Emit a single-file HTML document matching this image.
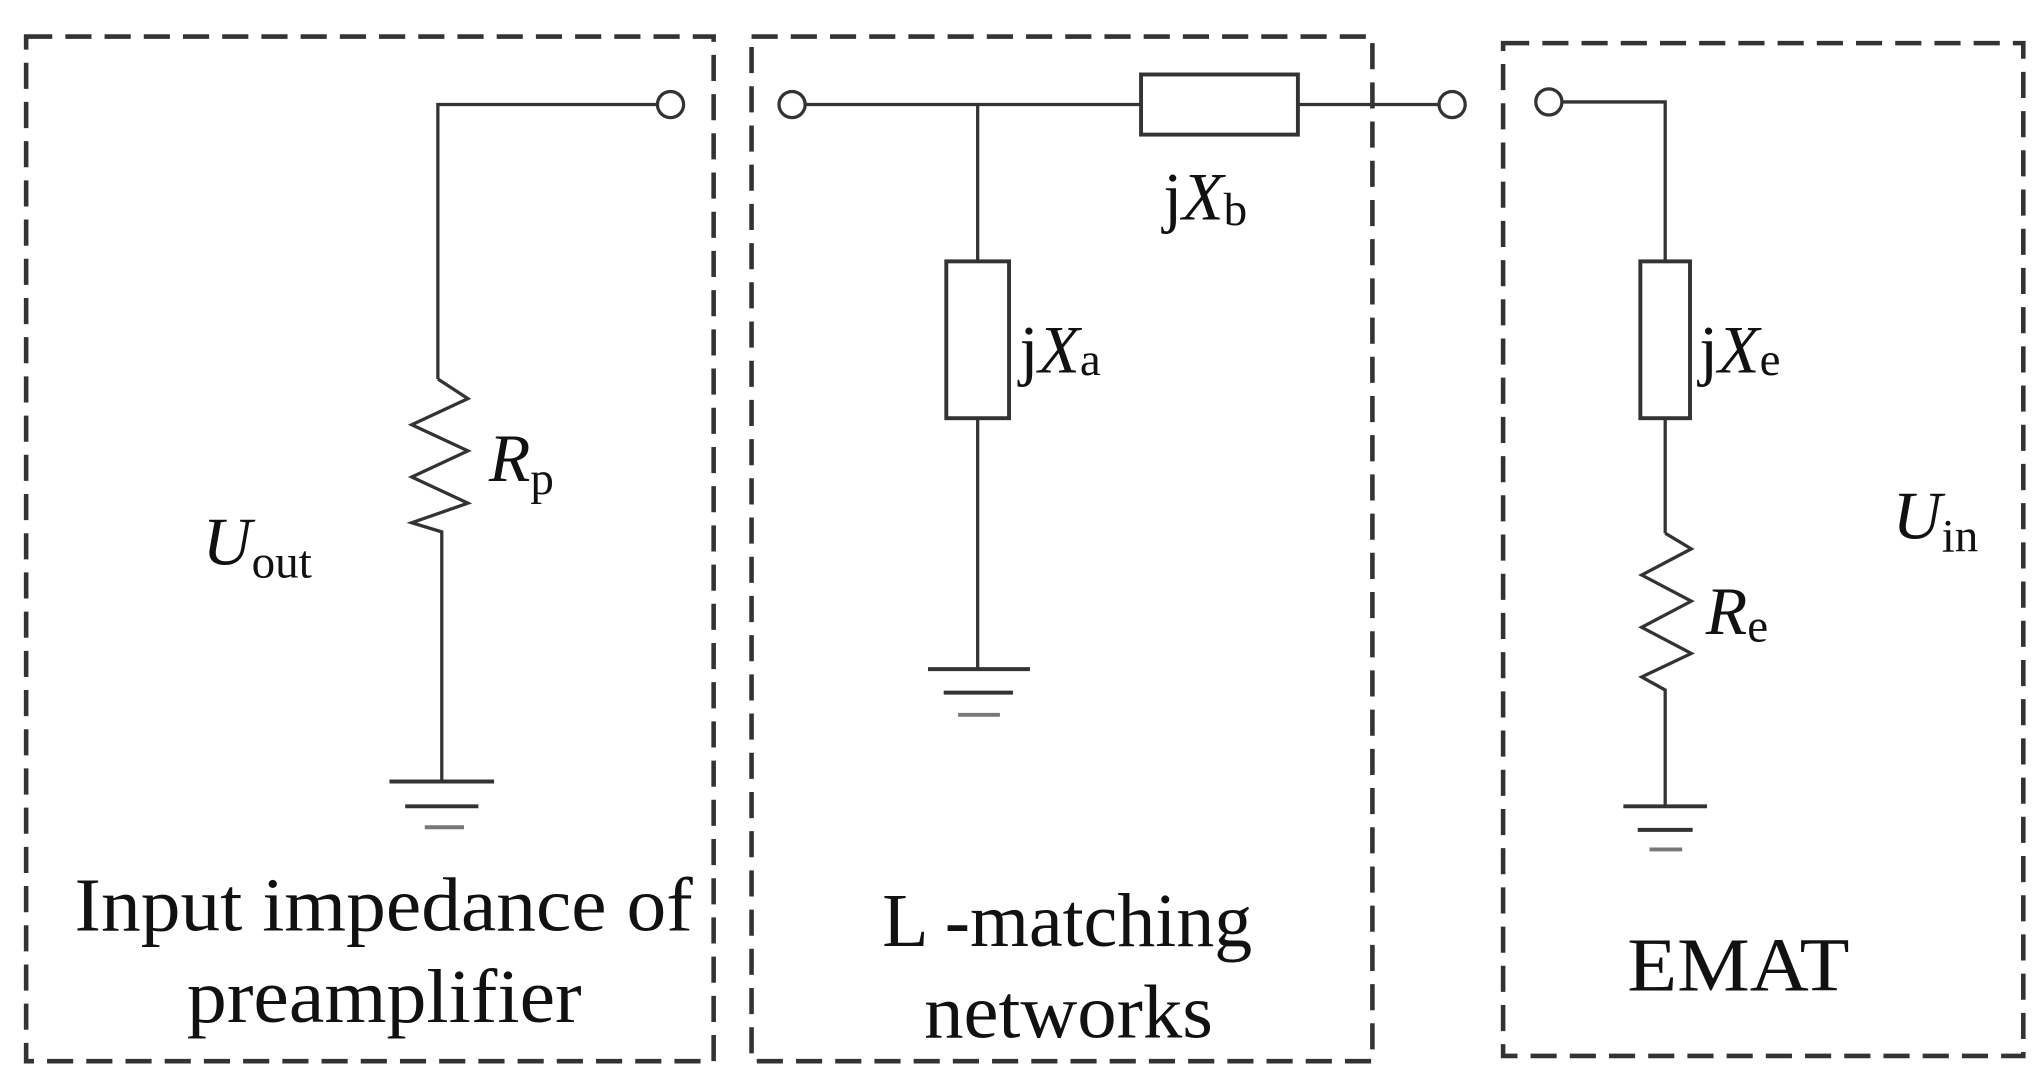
<!DOCTYPE html>
<html><head><meta charset="utf-8"><style>html,body{margin:0;padding:0;background:#fff}svg{display:block}</style></head>
<body>
<svg width="2039" height="1086" viewBox="0 0 1560 831" preserveAspectRatio="none" xmlns="http://www.w3.org/2000/svg" font-family="Liberation Serif, serif">
<g fill="none" stroke="#333" stroke-width="3.5" stroke-dasharray="20,10">
<rect x="20" y="28" width="526" height="784"/>
<rect x="575" y="28" width="475" height="784"/>
<rect x="1150" y="33" width="398" height="775"/>
</g>
<g fill="none" stroke="#333" stroke-width="2.5">
<circle cx="513" cy="80" r="10"/>
<polyline points="503,80 335,80 335,290"/>
<polyline points="335,290 358,305 315,325 358,345 315,365 358,385 315,400 338,407 338,598"/>
<circle cx="606" cy="80" r="10"/>
<line x1="616" y1="80" x2="873" y2="80"/>
<rect x="873" y="57" width="120" height="46" stroke-width="3"/>
<line x1="993" y1="80" x2="1100" y2="80"/>
<circle cx="1111" cy="80" r="10"/>
<line x1="748" y1="80" x2="748" y2="200"/>
<rect x="724" y="200" width="48" height="120" stroke-width="3"/>
<line x1="748" y1="320" x2="748" y2="512"/>
<circle cx="1185" cy="78" r="10"/>
<polyline points="1195,78 1274,78 1274,200"/>
<rect x="1255" y="200" width="38" height="120" stroke-width="3"/>
<line x1="1274" y1="320" x2="1274" y2="408"/>
<polyline points="1274,408 1294,420 1256,440 1294,460 1256,480 1294,500 1256,518 1274,528 1274,617"/>
</g>
<g stroke="#333" stroke-width="3">
<line x1="298" y1="598" x2="378" y2="598"/><line x1="310" y1="617" x2="366" y2="617"/><line x1="325" y1="633" x2="355" y2="633" stroke="#777"/>
<line x1="710" y1="512" x2="788" y2="512"/><line x1="722" y1="530" x2="775" y2="530"/><line x1="733" y1="547" x2="765" y2="547" stroke="#777"/>
<line x1="1242" y1="617" x2="1306" y2="617"/><line x1="1253" y1="635" x2="1295" y2="635"/><line x1="1262" y1="650" x2="1287" y2="650" stroke="#777"/>
</g>
<g fill="#111" font-size="52">
<text x="890" y="168">j<tspan font-style="italic">X</tspan><tspan font-size="36" dy="4">b</tspan></text>
<text x="780" y="285">j<tspan font-style="italic">X</tspan><tspan font-size="36" dy="2">a</tspan></text>
<text x="1300" y="285">j<tspan font-style="italic">X</tspan><tspan font-size="36" dy="2">e</tspan></text>
<text x="374" y="368" font-style="italic">R<tspan font-size="36" font-style="normal" dy="10">p</tspan></text>
<text x="1305" y="485" font-style="italic">R<tspan font-size="36" font-style="normal" dy="6">e</tspan></text>
<text x="155" y="432" font-style="italic">U<tspan font-size="36" font-style="normal" dy="10">out</tspan></text>
<text x="1448" y="412" font-style="italic">U<tspan font-size="36" font-style="normal" dy="10">in</tspan></text>
</g>
<g fill="#111" font-size="58">
<text x="57" y="712" textLength="473" lengthAdjust="spacingAndGlyphs">Input impedance of</text>
<text x="143" y="782" textLength="302" lengthAdjust="spacingAndGlyphs">preamplifier</text>
<text x="675" y="724" textLength="283" lengthAdjust="spacingAndGlyphs">L -matching</text>
<text x="707" y="794" textLength="221" lengthAdjust="spacingAndGlyphs">networks</text>
<text x="1245" y="758" textLength="170" lengthAdjust="spacingAndGlyphs">EMAT</text>
</g>
</svg>
</body></html>
